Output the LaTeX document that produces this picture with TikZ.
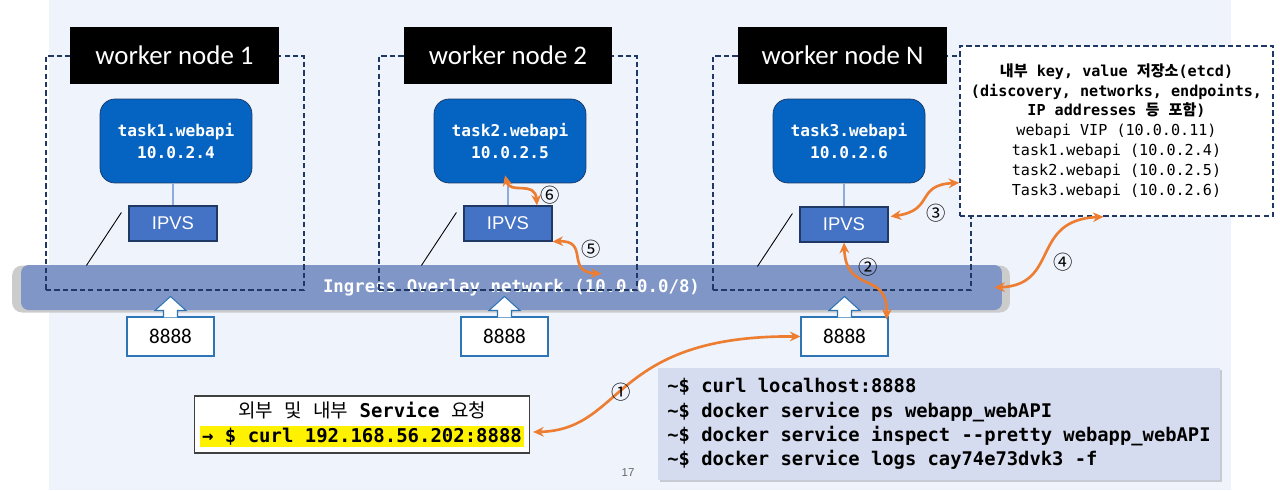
\documentclass[tikz,border=0pt]{standalone}
\usepackage{fontspec}
\setmainfont{Carlito}
\setmonofont{DejaVu Sans Mono}
\newfontfamily\krfont{Noto Sans CJK KR}
\newfontfamily\arialfont{Liberation Sans}
\usetikzlibrary{positioning, arrows.meta, calc, shadows}

\definecolor{bgblue}{HTML}{EEF3FC}
\definecolor{barblue}{HTML}{7F96C7}
\definecolor{taskblue}{HTML}{0563C1}
\definecolor{ipvsblue}{HTML}{4472C4}
\definecolor{navy}{HTML}{1F3864}
\definecolor{portblue}{HTML}{2E75B6}
\definecolor{lineblue}{HTML}{8FAADC}
\definecolor{cmdfill}{HTML}{D6DCEF}
\definecolor{flow}{HTML}{ED7D31}

\begin{document}
\begin{tikzpicture}[
          x=0.02cm, y=-0.02cm,
          worker_box/.style={draw=navy, line width=0.9pt, dash pattern=on 3pt off 1.8pt, minimum width=5.16cm, minimum height=4.68cm},
          label_box/.style={fill=black, text=white, minimum width=4.18cm, minimum height=1.14cm, font=\fontsize{15.3pt}{18pt}\selectfont},
          task_box/.style={draw=navy, fill=taskblue, rounded corners=3mm, text=white, align=center, minimum width=3.04cm, minimum height=1.68cm, font=\ttfamily\bfseries\fontsize{9.2pt}{12.5pt}\selectfont},
          ipvs_box/.style={draw=navy, fill=ipvsblue, line width=0.7pt, text=white, minimum width=1.76cm, minimum height=0.7cm, font=\arialfont\fontsize{10.5pt}{12pt}\selectfont},
          port_box/.style={draw=portblue, fill=white, line width=0.6pt, minimum width=1.74cm, minimum height=0.78cm, font=\fontsize{12pt}{14pt}\selectfont},
          port_tip/.style={draw=portblue, fill=white, line width=0.6pt, line join=miter},
          etcd_box/.style={draw=navy, fill=white, line width=0.9pt, dash pattern=on 3pt off 1.8pt, align=center, minimum width=6.26cm, minimum height=3.4cm, font=\ttfamily\fontsize{8.6pt}{11.3pt}\selectfont},
          link/.style={draw=black, line width=0.5pt},
          tline/.style={draw=lineblue, line width=0.6pt},
          arrow/.style={{Stealth[length=6pt,width=5.5pt]}-{Stealth[length=6pt,width=5.5pt]}, draw=flow, line width=1.5pt},
          step_no/.style={font=\krfont\fontsize{11pt}{11pt}\selectfont, inner sep=0pt}
      ]
          \useasboundingbox (0,0) rectangle (1280,490);
          \fill[bgblue] (49,0) rectangle (1231,490);

          % Ingress overlay network bar
          \node[fill=black!20, rounded corners=2mm, minimum width=19.96cm, minimum height=0.94cm] (bar_shadow) at (511,289) {};
          \node[fill=barblue, rounded corners=1.5mm, minimum width=19.62cm, minimum height=0.9cm, text=white, font=\ttfamily\bfseries\fontsize{9.9pt}{12pt}\selectfont] (bar) at (511.5,287.5) {Ingress Overlay network (10.0.0.0/8)};

          % worker nodes
          \node[worker_box] (wn1) at (175,173) {};
          \node[worker_box] (wn2) at (508,173) {};
          \node[worker_box] (wnN) at (842,173) {};
          \node[label_box] (lbl1) at (174.5,55.5) {worker node 1};
          \node[label_box] (lbl2) at (508,55.5) {worker node 2};
          \node[label_box] (lblN) at (842.5,55.5) {worker node N};

          \node[task_box] (task1) at (176,141) {task1.webapi\\10.0.2.4};
          \node[task_box] (task2) at (510,141) {task2.webapi\\10.0.2.5};
          \node[task_box] (taskN) at (849,141) {task3.webapi\\10.0.2.6};

          \node[ipvs_box] (ipvs1) at (173,223.5) {IPVS};
          \node[ipvs_box] (ipvs2) at (508,223.5) {IPVS};
          \node[ipvs_box] (ipvsN) at (844,224.5) {IPVS};

          \foreach \i in {1,2,N} {
            \draw[tline] (ipvs\i.north) -- (ipvs\i.north |- task\i.south);
            \draw[link] ($(ipvs\i.west)+(-7,-11)$) -- ($(ipvs\i.west)+(-42,42)$);
          }

          % published port 8888
          \node[port_box] (port1) at (170.5,336.5) {8888};
          \node[port_box] (port2) at (504.5,336.5) {8888};
          \node[port_box] (portN) at (844.5,336.5) {8888};
          \foreach \p in {port1,port2,portN}
            \draw[port_tip] ($(\p.north)+(-7,1)$) -- ++(0,-7) -- ++(-8.5,0) -- ($(\p.north)+(0,-20)$) -- ($(\p.north)+(15.5,-6)$) -- ++(-8.5,0) -- ++(0,7);

          % key-value store
          \node[etcd_box] (etcd) at (1116.5,131) {\textbf{{\krfont 내부} key, value {\krfont 저장소}(etcd)}\\\textbf{(discovery, networks, endpoints,}\\\textbf{IP addresses {\krfont 등} {\krfont 포함})}\\webapi VIP (10.0.0.11)\\task1.webapi (10.0.2.4)\\task2.webapi (10.0.2.5)\\Task3.webapi (10.0.2.6)};

          % request box and commands
          \node[draw=black!75, fill=white, line width=0.7pt, align=center, minimum width=6.6cm, minimum height=1.1cm, font=\ttfamily\fontsize{10.8pt}{13.2pt}\selectfont] (svc) at (362,424.5) {{\krfont 외부} {\krfont 및} {\krfont 내부} \textbf{Service} {\krfont 요청}\\[1pt]\setlength{\fboxsep}{1pt}\colorbox{yellow}{\textbf{→ \$ curl 192.168.56.202:8888}}};
          \node[fill=cmdfill, drop shadow={shadow xshift=1.2pt, shadow yshift=-1.2pt, opacity=0.35}, align=left, minimum width=11.24cm, minimum height=2.24cm, font=\ttfamily\bfseries\fontsize{10.7pt}{13.8pt}\selectfont] (cmd) at (939,424) {\textasciitilde\$ curl localhost:8888\\\textasciitilde\$ docker service ps webapp\_webAPI\\\textasciitilde\$ docker service inspect -{}-pretty webapp\_webAPI\\\textasciitilde\$ docker service logs cay74e73dvk3 -f};
          \node[text=black!60, font=\arialfont\fontsize{6.5pt}{7pt}\selectfont] (page) at (628,473) {17};

          % request flow
          \draw[arrow] ($(svc.east)+(3,7.5)$) .. controls (625,430) and (610,335) .. (portN.west);
          \draw[arrow] (ipvsN.south) .. controls (846,295) and (888,270) .. ($(portN.north east)+(-2,3)$);
          \draw[arrow] ($(ipvsN.east)+(2,-8)$) .. controls (935,210) and (915,185) .. ($(etcd.south west)+(0,-34)$);
          \draw[arrow] ($(bar.east)+(-8,0)$) .. controls (1060,285) and (1030,220) .. ($(etcd.south)+(-13,0)$);
          \draw[arrow] (ipvs2.south east) .. controls (590,240) and (565,272) .. ($(bar.north)+(90,9)$);
          \draw[arrow] ($(task2.south)+(-5,-8)$) .. controls (510,195) and (535,180) .. ($(ipvs2.north)+(29,0)$);

          \node[step_no] (n1) at (621,392) {①};
          \node[step_no] (n2) at (868,267) {②};
          \node[step_no] (n3) at (936,213) {③};
          \node[step_no] (n4) at (1063,262) {④};
          \node[step_no] (n5) at (591,249) {⑤};
          \node[step_no] (n6) at (550,195) {⑥};
      \end{tikzpicture}
\end{document}
